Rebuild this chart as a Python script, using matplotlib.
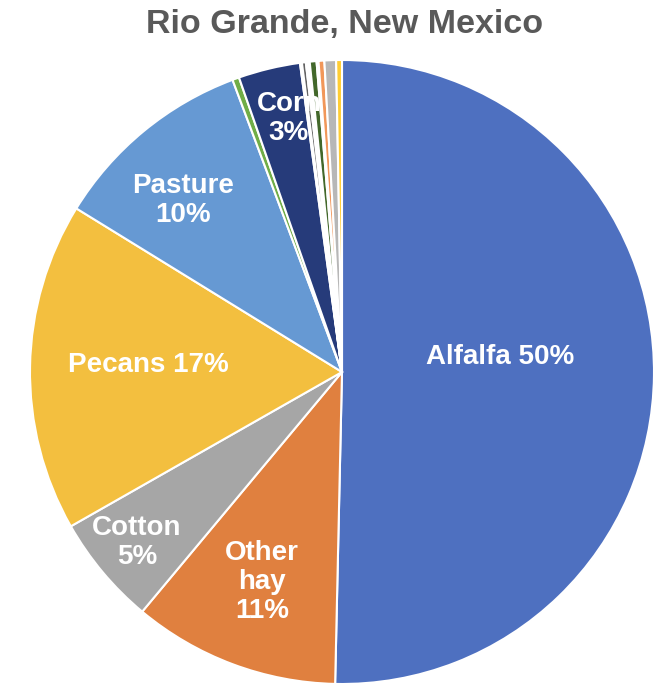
import matplotlib
matplotlib.use('Agg')
import matplotlib.pyplot as plt

plt.rcParams['font.family'] = ['Liberation Sans', 'DejaVu Sans']

# crop shares (%), clockwise from 12 o'clock
crops = ['Alfalfa', 'Other hay', 'Cotton', 'Pecans', 'Pasture', 'Small grains', 'Corn',
         'c8', 'c9', 'c10', 'c11', 'c12', 'c13', 'c14', 'c15', 'c16']
shares = [50.3, 10.7, 5.7, 17.0, 10.5, 0.35, 3.2,
          0.1, 0.2, 0.1, 0.1, 0.35, 0.1, 0.3, 0.6, 0.3]
labels = ['Alfalfa 50%', 'Other\nhay\n11%', 'Cotton\n5%', 'Pecans 17%', 'Pasture\n10%', '', 'Corn\n3%',
          '', '', '', '', '', '', '', '', '']
colors = ['#4E70C0', '#E0803F', '#A6A6A6', '#F3BF3F', '#6699D3', '#70AD47', '#263B7A',
          '#9E480E', '#636363', '#997300', '#255E91', '#43682B', '#698ED0', '#F1975A', '#B7B7B7', '#FFCD33']

# label anchor points (axes data units, pie radius = 1)
label_pos = {'Alfalfa 50%': (0.506, 0.048), 'Other\nhay\n11%': (-0.256, -0.673),
             'Cotton\n5%': (-0.657, -0.548), 'Pecans 17%': (-0.622, 0.022),
             'Pasture\n10%': (-0.51, 0.551), 'Corn\n3%': (-0.17, 0.814)}

fig = plt.figure(figsize=(6.63, 6.87), dpi=100)
ax = fig.add_axes([30 / 663, 3 / 687, 624 / 663, 624 / 687])
ax.pie(shares, colors=colors, startangle=90, counterclock=False,
       wedgeprops=dict(edgecolor='white', linewidth=1.5))
ax.set_xlim(-1, 1)
ax.set_ylim(-1, 1)
ax.set_aspect('equal')
ax.axis('off')

for lab in labels:
    if lab:
        x, y = label_pos[lab]
        ax.text(x, y, lab, ha='center', va='center', color='white',
                fontsize=20, fontweight='bold', linespacing=1.15)

fig.text(0.52, 1 - 24 / 687, 'Rio Grande, New Mexico', ha='center', va='center',
         fontsize=24.5, fontweight='bold', color='#595959')

fig.savefig('out.png', dpi=100)
